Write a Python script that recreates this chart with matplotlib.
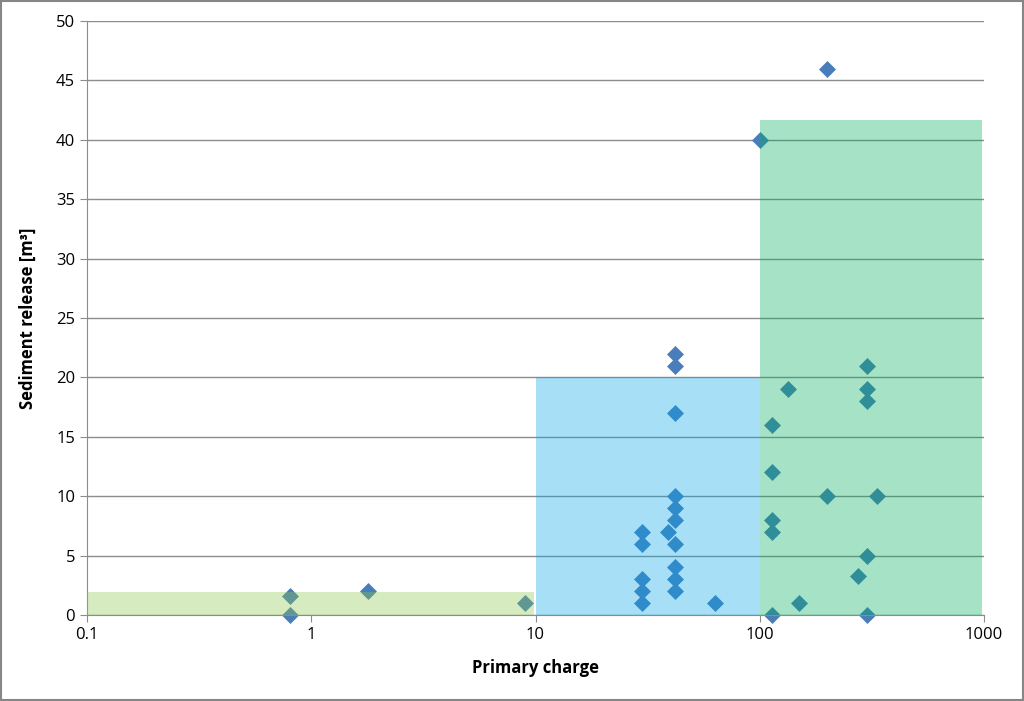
import numpy as np
import matplotlib.pyplot as plt
from matplotlib.patches import Rectangle

# primary charge vs sediment release
charge = [0.8, 0.8, 1.8, 9,
          30, 30, 30, 30, 30,
          42, 42, 42, 42, 42, 42, 42, 42, 42, 42,
          39, 63, 100, 200,
          113, 113, 113, 113, 113,
          133, 150, 200,
          300, 300, 300, 300, 300,
          275, 335]
release = [1.6, 0, 2, 1,
           7, 6, 3, 2, 1,
           22, 21, 17, 10, 9, 8, 6, 4, 3, 2,
           7, 1, 40, 46,
           16, 12, 8, 7, 0,
           19, 1, 10,
           21, 19, 18, 5, 0,
           3.3, 10]

# class boxes: (x from, x to, height)
box_x0 = [0.1, 10, 100]
box_x1 = [9.8, 100, 980]
box_h = [1.9, 20, 41.7]
box_colors = [(141/255, 198/255, 75/255), (0, 166/255, 232/255), (0, 172/255, 89/255)]

plt.rcParams['font.family'] = ['Open Sans', 'DejaVu Sans']

fig = plt.figure(figsize=(10.24, 7.01), dpi=100)
fig.patches.append(Rectangle((0.001, 0.001), 0.998, 0.997, transform=fig.transFigure,
                             fill=False, edgecolor='#868686', linewidth=1.5))
ax = fig.add_axes([87/1024, 1 - 615/701, (984-87)/1024, (615-21)/701])

ax.scatter(charge, release, marker='D', s=75, color='#4a7ebb', zorder=2,
           linewidths=0, clip_on=False)
for x0, x1, h, c in zip(box_x0, box_x1, box_h, box_colors):
    ax.add_patch(Rectangle((x0, 0), x1 - x0, h, facecolor=c, alpha=0.35,
                           edgecolor='none', zorder=3))

ax.set_xscale('log')
ax.set_xlim(0.1, 1000)
ax.set_ylim(0, 50)
ax.set_yticks(np.arange(0, 51, 5))
ax.set_xticks([0.1, 1, 10, 100, 1000])
ax.set_xticklabels(['0.1', '1', '10', '100', '1000'])
ax.xaxis.set_minor_locator(plt.NullLocator())
ax.yaxis.grid(True, color='#8c8c8c', linewidth=1)
ax.set_axisbelow(True)
for s in ['top', 'right']:
    ax.spines[s].set_visible(False)
for s in ['left', 'bottom']:
    ax.spines[s].set_color('#8c8c8c')
ax.tick_params(colors='#8c8c8c', labelcolor='black', labelsize=12, length=5)
ax.set_xlabel('Primary charge', fontsize=12, fontweight='bold', labelpad=12)
ax.set_ylabel('Sediment release [m³]', fontsize=12, fontweight='bold', labelpad=14)

fig.savefig('out.png', dpi=100)
